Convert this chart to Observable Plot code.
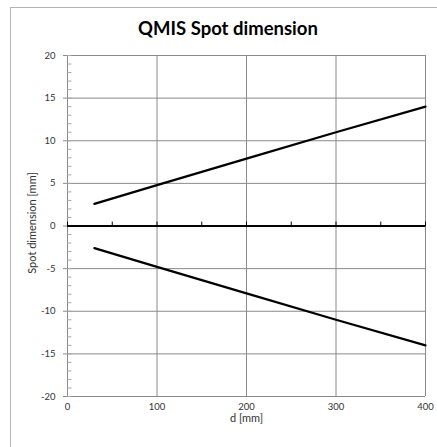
<!DOCTYPE html>
<html>
<head>
<meta charset="utf-8">
<script src="https://cdn.jsdelivr.net/npm/d3@7"></script>
<script src="https://cdn.jsdelivr.net/npm/@observablehq/plot@0.6"></script>
<style>
  html, body { margin: 0; padding: 0; background: #fff; }
  #wrap { position: relative; width: 437px; height: 447px; overflow: hidden; background: #fff; }
  #border { position: absolute; left: 10px; top: 7px; width: 440px; height: 460px; border-left: 1px solid #b4b4b4; border-top: 1px solid #b4b4b4; box-sizing: border-box; }
  #title { position: absolute; left: 0; width: 456px; top: 17px; text-align: center; font: bold 18.5px Lato, sans-serif; color: #000; }
  #chart { position: absolute; left: 0; top: 0; }
</style>
</head>
<body>
<div id="wrap">
  <div id="border"></div>
  <div id="title">QMIS Spot dimension</div>
  <div id="chart"></div>
</div>
<script>
const dist = [30, 100, 200, 300, 400];
const upper = [2.6, 4.8, 7.9, 11.0, 14.0];
const lower = [-2.6, -4.8, -7.9, -11.0, -14.0];
const xTicks = [0, 100, 200, 300, 400];
const xMinor = [0, 50, 100, 150, 200, 250, 300, 350, 400];
const yTicks = [-20, -15, -10, -5, 0, 5, 10, 15, 20];
const yMinor = d3.range(-20, 21, 1);
const xLabel = "d [mm]";
const yLabel = "Spot dimension [mm]";

const upperData = dist.map((d, i) => ({d, v: upper[i]}));
const lowerData = dist.map((d, i) => ({d, v: lower[i]}));
const grey = "#8a8a8a";
const tickLine = {draw(context, l) { context.moveTo(0, 0); context.lineTo(0, -l); }};

const chart = Plot.plot({
  width: 437,
  height: 447,
  marginLeft: 67,
  marginRight: 12,
  marginTop: 55,
  marginBottom: 51,
  style: {fontFamily: "Lato, sans-serif", fontSize: "9.5px", color: "#333", background: "transparent", overflow: "visible"},
  x: {domain: [0, 400]},
  y: {domain: [-20, 20]},
  marks: [
    Plot.ruleX(xTicks.filter(t => t > 0), {stroke: grey, strokeWidth: 1}),
    Plot.ruleY(yTicks.filter(t => t !== 0), {stroke: grey, strokeWidth: 1}),
    Plot.ruleX([0], {stroke: grey, strokeWidth: 1}),
    Plot.vector(yMinor, {x: 0, y: d => d, length: 3.5, rotate: 90, anchor: "start", shape: tickLine, stroke: "#a8a8a8", strokeWidth: 1}),
    Plot.ruleY([0], {stroke: "#000", strokeWidth: 2}),
    Plot.vector(xMinor, {x: d => d, y: 0, length: 4, rotate: 0, anchor: "start", shape: tickLine, stroke: "#000", strokeWidth: 1}),
    Plot.line(upperData, {x: "d", y: "v", stroke: "#000", strokeWidth: 2.2}),
    Plot.line(lowerData, {x: "d", y: "v", stroke: "#000", strokeWidth: 2.2}),
    Plot.axisY({ticks: yTicks, tickSize: 4, tickPadding: 8, stroke: grey, tickFormat: d => String(d), label: null, fill: "#333"}),
    Plot.axisX({ticks: xTicks, tickSize: 0, tickPadding: 7, tickFormat: d => String(d), label: null, fill: "#333"}),
    Plot.text([yLabel], {text: d => d, frameAnchor: "left", rotate: -90, dx: -35, dy: -3, textAnchor: "middle", lineAnchor: "middle", fontSize: 11, fill: "#333"}),
    Plot.text([xLabel], {text: d => d, frameAnchor: "bottom", dy: 22, textAnchor: "middle", lineAnchor: "middle", fontSize: 11, fill: "#333"})
  ]
});
document.getElementById("chart").appendChild(chart);
</script>
</body>
</html>
